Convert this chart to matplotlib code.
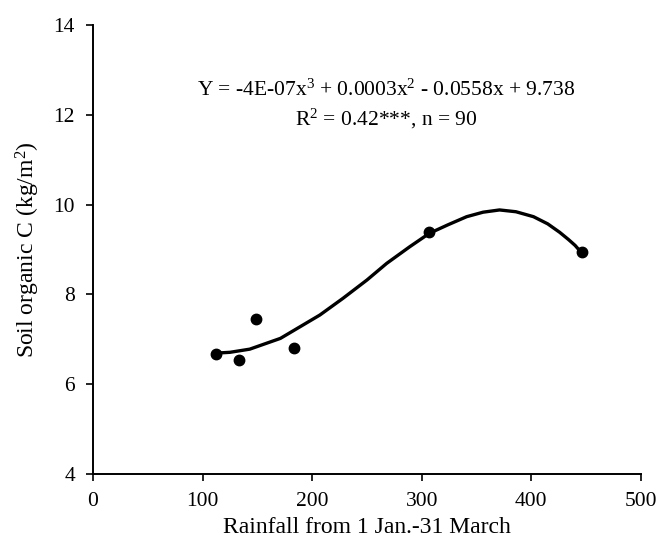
import numpy as np
import matplotlib
matplotlib.use("Agg")
import matplotlib.pyplot as plt

# observed points
rain = [112, 133, 149, 183, 307, 446]
soil_c = [6.67, 6.54, 7.45, 6.81, 9.40, 8.94]

# trend line
trend_x = [111, 125, 143, 171, 189, 207, 228, 250, 268, 289, 307, 324, 341,
           356, 371, 386, 402, 415, 426, 434, 440, 445]
trend_y = [6.69, 6.71, 6.78, 7.02, 7.28, 7.54, 7.91, 8.32, 8.69, 9.06, 9.36,
           9.55, 9.73, 9.83, 9.88, 9.84, 9.73, 9.57, 9.38, 9.22, 9.09, 8.95]

x_ticks = [0, 100, 200, 300, 400, 500]
y_ticks = [4, 6, 8, 10, 12, 14]

plt.rcParams['font.family'] = ['Liberation Serif', 'DejaVu Serif']
plt.rcParams['mathtext.fontset'] = 'custom'
plt.rcParams['mathtext.rm'] = 'Liberation Serif'
plt.rcParams['mathtext.it'] = 'Liberation Serif:italic'
plt.rcParams['mathtext.bf'] = 'Liberation Serif:bold'

fig = plt.figure(figsize=(6.6, 5.54), dpi=100)
ax = fig.add_axes([0.141, 0.1444, 0.830, 0.8106])

ax.plot(trend_x, trend_y, color='black', lw=2.4, solid_capstyle='round',
        solid_joinstyle='round')
ax.plot(rain, soil_c, 'o', color='black', ms=7.5)

ax.set_xlim(0, 500)
ax.set_ylim(4, 14)
ax.set_xticks(x_ticks)
ax.set_yticks(y_ticks)
ax.tick_params(direction='out', length=5, width=1.2, labelsize=15.5, pad=8)
for s in ['top', 'right']:
    ax.spines[s].set_visible(False)
for s in ['left', 'bottom']:
    ax.spines[s].set_linewidth(1.4)

ax.set_xlabel('Rainfall from 1 Jan.-31 March', fontsize=17, labelpad=4)
ax.set_ylabel(r'Soil organic C (kg/m$^\mathrm{2}$)', fontsize=17, labelpad=8)

ax.text(0.535, 0.855, r'Y = -4E-07x$^\mathrm{3}$ + 0.0003x$^\mathrm{2}$ - 0.0558x + 9.738',
        transform=ax.transAxes, ha='center', va='center', fontsize=15.5)
ax.text(0.535, 0.79, r'R$^\mathrm{2}$ = 0.42***, n = 90',
        transform=ax.transAxes, ha='center', va='center', fontsize=15.5)

fig.savefig('out.png', dpi=100)
